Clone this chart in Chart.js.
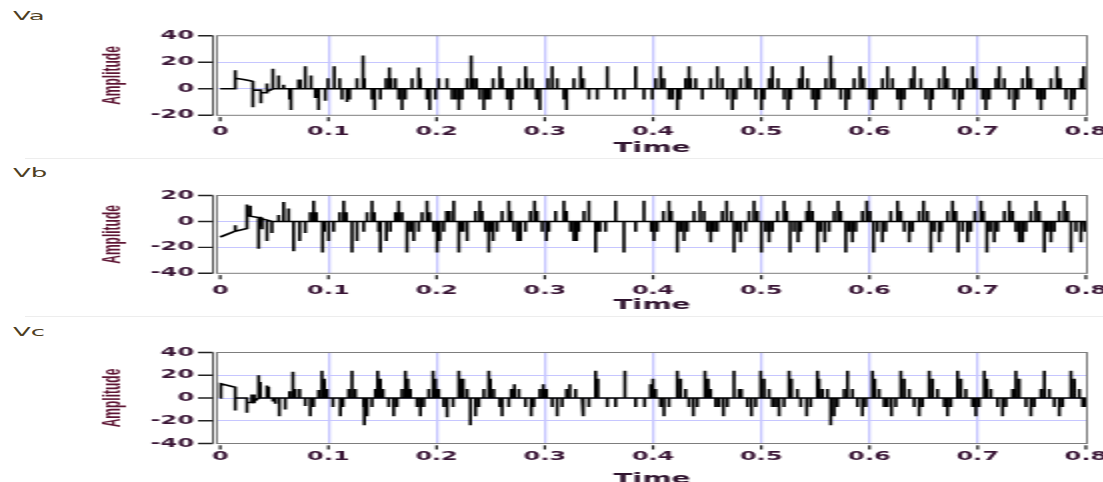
<!DOCTYPE html>
<html><head><meta charset="utf-8">
<script src="https://cdn.jsdelivr.net/npm/chart.js@4/dist/chart.umd.min.js"></script>
<style>
html,body{margin:0;padding:0;background:#fff;width:1103px;height:482px;overflow:hidden;position:relative;}
.panel{position:absolute;left:0;transform-origin:0 0;transform:scaleX(2);}
.lbl{position:absolute;left:13px;font:13px "DejaVu Sans";line-height:15px;color:#4e3e22;transform-origin:0 0;transform:scaleX(2);}
.sep{position:absolute;left:25px;width:1078px;height:1px;background:#ededed;}
</style></head><body>
<div class="lbl" style="top:8px">Va</div>
<div class="lbl" style="top:165px">Vb</div>
<div class="lbl" style="top:324px">Vc</div>
<div class="sep" style="top:158px"></div>
<div class="sep" style="top:316px"></div>
<canvas id="c1" class="panel" width="560" height="158" style="top:0px"></canvas>
<canvas id="c2" class="panel" width="560" height="158" style="top:158px"></canvas>
<canvas id="c3" class="panel" width="560" height="174" style="top:316px"></canvas>
<script>
// ---- axis ticks ----
const xTickValues = [0,0.1,0.2,0.3,0.4,0.5,0.6,0.7,0.8];
const xTickLabels = ['0','0.1','0.2','0.3','0.4','0.5','0.6','0.7','0.8'];
const vaYTicks = [-20,0,20,40];
const vbYTicks = [-40,-20,0,20];
const vcYTicks = [-40,-20,0,20,40];

// ---- Va: start-up segment (polyline vertices [time, amplitude]) ----
const vaLead = [[0,0],[0.0139,0],[0.0139,14],[0.0139,8],[0.0216,7],[0.0277,6],[0.0302,5.5],[0.0302,-14],[0.0302,-1],[0.0376,-1],[0.0376,-11],[0.0376,-3],[0.0432,-3],[0.0432,4],[0.0432,-2]];
// ---- Va: pulses from zero [time, amplitude] ----
const vaPulses = [[0.0487,15],[0.0540,10],[0.0586,3],[0.0641,-8],[0.0654,-16],[0.0724,7],[0.0740,7],[0.0786,17],[0.0839,10],[0.0879,-7],[0.0909,-16],[0.0971,-9],[0.0996,8],[0.1054,17],[0.1104,8],[0.1125,-8],[0.1172,-10],[0.1196,-8],[0.1264,8],[0.1320,25],[0.1332,8],[0.1403,-8],[0.1427,-16],[0.1480,-8],[0.1532,8],[0.1563,16],[0.1579,8],[0.1619,8],[0.1649,-8],[0.1680,-16],[0.1711,-8],[0.1773,8],[0.1834,16],[0.1850,8],[0.1911,-8],[0.1936,-16],[0.1989,-8],[0.2019,8],[0.2096,8],
[0.2143,-8],[0.2174,-8],[0.2205,-16],[0.2236,-8],[0.2282,8],[0.2319,25],[0.2337,8],[0.2368,8],[0.2399,-8],[0.2436,-16],[0.2461,-8],[0.2491,-8],[0.2522,8],[0.2584,17],[0.2606,8],[0.2652,-8],[0.2683,-16],[0.2698,-8],[0.2760,8],[0.2821,17],[0.2837,8],[0.2883,8],[0.2923,-8],[0.2954,-16],[0.3028,8],[0.3068,17],[0.3114,8],[0.3176,-8],[0.3201,-16],[0.3268,8],[0.3330,17],[0.3355,8],[0.3407,-8],[0.3484,-8],[0.3577,17],[0.3654,-8],[0.3731,-8],[0.3839,17],[0.3916,-8],[0.3993,-8],[0.4024,8],[0.4070,17],[0.4101,8],[0.4147,-8],[0.4178,-8],[0.4224,-16],[0.4249,-8],[0.4301,8],[0.4332,17],[0.4347,8],[0.4394,8],
[0.4455,-8],[0.4533,8],[0.4594,17],[0.4640,8],[0.4687,-8],[0.4733,-16],[0.4764,-8],[0.4810,8],[0.4865,17],[0.4896,8],[0.4949,-8],[0.5001,-16],[0.5026,-8],[0.5072,8],[0.5103,17],[0.5155,8],[0.5211,-8],[0.5248,-16],[0.5272,-8],[0.5349,8],[0.5380,17],[0.5427,8],[0.5473,-8],[0.5504,-16],[0.5534,-8],[0.5596,8],[0.5642,25],[0.5673,8],[0.5735,-8],[0.5781,-16],[0.5812,-8],[0.5858,8],[0.5914,17],[0.5945,8],[0.5997,-8],[0.6028,-16],[0.6059,-8],[0.6120,8],[0.6166,17],[0.6213,8],[0.6259,-8],[0.6290,-16],[0.6321,-8],[0.6382,8],[0.6413,17],[0.6475,8],[0.6521,-8],[0.6561,-16],[0.6583,-8],[0.6644,8],[0.6691,17],[0.6721,8],[0.6783,-8],[0.6829,-16],[0.6860,-8],[0.6906,8],[0.6953,17],[0.6983,8],[0.7045,-8],[0.7076,-16],[0.7107,-8],[0.7168,8],[0.7199,17],[0.7246,8],[0.7292,-8],[0.7338,-16],[0.7369,-8],[0.7415,8],[0.7461,17],[0.7492,8],[0.7554,-8],[0.7585,-16],[0.7616,-8],[0.7677,8],[0.7733,17],[0.7763,8],[0.7816,-8],[0.7862,-16],[0.7893,-8],[0.7954,8],[0.7979,17]];

// ---- Vb ----
const vbLead = [[0,-12],[0.0139,-7.5],[0.0139,-3],[0.0139,-7.5],[0.0247,-5.5],[0.0247,13],[0.0247,5],[0.0278,4.5],[0.0278,12],[0.0278,4],[0.0355,3],[0.0355,-21],[0.0355,3],[0.0370,3],[0.0370,-4],[0.0370,2.5],[0.0386,2.5],[0.0386,-6],[0.0386,2],[0.0432,1],[0.0432,-15],[0.0432,1],[0.0478,0],[0.0478,-9],[0.0478,0]];
const vbPulses = [[0.0540,5],[0.0586,15],[0.0632,10],[0.0678,-23],[0.0734,-15],[0.0786,-9],[0.0832,7],[0.0863,16],[0.0888,7],[0.0946,-24],[0.0962,-8],[0.1002,-15],[0.1048,-8],[0.1104,7],[0.1141,16],[0.1165,7],[0.1218,-24],[0.1264,-15],[0.1326,-8],[0.1357,7],[0.1403,16],[0.1424,7],[0.1464,-8],[0.1480,-24],[0.1535,-15],[0.1572,-8],[0.1619,7],[0.1649,16],[0.1680,7],[0.1726,-24],[0.1757,-8],[0.1788,-15],[0.1834,-8],[0.1865,7],[0.1911,16],[0.1936,7],[0.1973,-8],[0.2004,-24],[0.2029,-15],
[0.2066,-8],[0.2091,8],[0.2121,8],[0.2158,16],[0.2205,-24],[0.2226,-8],[0.2245,-8],[0.2282,-15],[0.2359,8],[0.2399,16],[0.2420,8],[0.2451,-8],[0.2482,-24],[0.2504,-8],[0.2522,-15],[0.2559,-8],[0.2605,8],[0.2667,16],[0.2689,8],[0.2713,-8],[0.2750,-15],[0.2775,-15],[0.2821,-8],[0.2867,8],[0.2905,16],[0.2929,8],[0.2975,-8],[0.3015,-15],[0.3037,-8],[0.3099,8],[0.3176,16],[0.3200,8],[0.3237,-8],[0.3268,-15],[0.3293,-15],[0.3314,-8],[0.3361,8],[0.3407,16],[0.3469,-24],[0.3490,-8],[0.3509,-8],[0.3561,-8],[0.3654,16],[0.3731,-24],[0.3839,-8],[0.3916,16],[0.3984,-8],[0.4008,-15],[0.4039,-8],[0.4095,8],[0.4147,16],[0.4169,8],[0.4224,-24],[0.4255,-8],[0.4286,-15],[0.4317,-8],[0.4378,8],[0.4434,16],[0.4471,8],[0.4502,-8],
[0.4533,-16],[0.4563,-8],[0.4594,-8],[0.4640,8],[0.4680,16],[0.4724,8],[0.4748,-24],[0.4779,-8],[0.4810,-16],[0.4856,-8],[0.4887,8],[0.4933,16],[0.4964,8],[0.5001,-24],[0.5041,-8],[0.5072,-16],[0.5103,-8],[0.5149,8],[0.5211,16],[0.5235,8],[0.5266,-24],[0.5303,-8],[0.5340,-16],[0.5365,-8],[0.5420,8],[0.5442,16],[0.5473,8],[0.5519,-24],[0.5550,-8],[0.5587,-16],[0.5627,-8],[0.5673,8],[0.5710,16],[0.5735,8],[0.5781,-24],[0.5812,-8],[0.5843,-16],[0.5874,-8],[0.5935,8],[0.5975,16],[0.6006,8],[0.6037,-24],[0.6074,-8],[0.6120,-16],[0.6151,-8],[0.6197,8],[0.6259,16],[0.6290,8],[0.6321,-8],[0.6367,-16],[0.6398,-8],[0.6459,8],[0.6499,16],[0.6536,8],[0.6567,-24],[0.6598,-8],[0.6644,-16],[0.6666,-8],[0.6721,8],[0.6768,16],[0.6798,8],[0.6820,-24],[0.6860,-8],[0.6906,-16],[0.6937,-8],[0.6974,8],[0.7030,16],[0.7054,8],[0.7085,-24],[0.7116,-8],[0.7153,-16],[0.7184,-8],[0.7246,8],[0.7292,16],[0.7323,8],[0.7353,-8],[0.7384,-16],[0.7415,-16],[0.7446,-8],[0.7492,8],[0.7538,16],[0.7569,8],[0.7616,-24],[0.7646,-8],[0.7677,-16],[0.7708,-8],[0.7754,8],[0.7800,16],[0.7831,8],[0.7862,-24],[0.7908,-8],[0.7954,-16],[0.7985,-8]];

// ---- Vc ----
const vcLead = [[0,0],[0.0006,0],[0.0006,12.5],[0.0139,9.5],[0.0139,-11],[0.0139,0],[0.0247,0],[0.0247,-13],[0.0247,-4],[0.0293,-4],[0.0293,3],[0.0293,-4],[0.0314,-4],[0.0314,3],[0.0314,-3]];
const vcPulses = [[0.0355,20],[0.0370,14],[0.0432,11],[0.0447,10],[0.0487,-3],[0.0509,-5],[0.0546,-16],[0.0601,-10],[0.0641,6],[0.0672,23],[0.0694,8],[0.0734,8],[0.0786,-7],[0.0832,-16],[0.0863,-8],[0.0909,7],[0.0940,24],[0.0962,17],[0.0987,8],[0.1042,-8],[0.1110,-16],[0.1135,-8],[0.1187,8],[0.1218,24],[0.1249,8],[0.1326,-8],[0.1332,-24],[0.1357,-16],[0.1403,-8],[0.1434,8],[0.1455,24],[0.1480,17],[0.1505,8],[0.1557,-8],[0.1603,-16],[0.1634,-8],[0.1680,8],[0.1711,24],[0.1733,17],[0.1757,8],[0.1819,-8],[0.1850,-16],[0.1881,-8],[0.1927,8],[0.1967,24],[0.1989,17],[0.2019,8],
[0.2066,-8],[0.2097,-17],[0.2152,-8],[0.2205,24],[0.2226,17],[0.2245,17],[0.2282,8],[0.2312,-24],[0.2359,-16],[0.2390,-8],[0.2436,8],[0.2482,24],[0.2497,17],[0.2528,8],[0.2584,-8],[0.2605,-16],[0.2667,-8],[0.2689,8],[0.2719,12],[0.2760,8],[0.2821,-8],[0.2874,-16],[0.2898,-8],[0.2954,8],[0.2985,12],[0.3015,8],[0.3068,-8],[0.3114,-16],[0.3160,-8],[0.3200,8],[0.3231,12],[0.3284,8],[0.3345,-8],[0.3361,-16],[0.3407,-8],[0.3469,24],[0.3490,17],[0.3577,-8],[0.3654,-8],[0.3740,24],[0.3839,-8],[0.3922,-8],[0.3977,12],[0.3999,17],[0.4024,8],[0.4070,-8],[0.4101,-16],[0.4147,-8],[0.4224,24],[0.4255,17],[0.4301,8],[0.4332,-8],[0.4372,-16],[0.4409,-8],[0.4471,8],
[0.4486,24],[0.4508,17],[0.4532,8],[0.4579,-8],[0.4610,-8],[0.4650,-16],[0.4687,-8],[0.4748,24],[0.4795,8],[0.4816,8],[0.4872,-8],[0.4909,-16],[0.4949,-8],[0.4995,24],[0.5026,17],[0.5072,8],[0.5103,-8],[0.5134,-8],[0.5165,-16],[0.5211,-8],[0.5257,24],[0.5279,17],[0.5334,8],[0.5365,-8],[0.5420,-16],[0.5457,-8],[0.5519,24],[0.5534,17],[0.5565,8],[0.5612,8],[0.5642,-24],[0.5673,-16],[0.5704,-8],[0.5766,8],[0.5797,24],[0.5843,8],[0.5889,-8],[0.5935,-16],[0.5966,-8],[0.6028,24],[0.6049,17],[0.6089,8],[0.6136,-8],[0.6166,-8],[0.6203,-16],[0.6244,-8],[0.6290,24],[0.6321,17],[0.6367,8],[0.6413,-8],[0.6459,-16],[0.6490,-8],[0.6552,24],[0.6583,17],[0.6629,8],[0.6691,-8],[0.6721,-16],[0.6752,-8],[0.6814,24],[0.6845,17],[0.6891,8],[0.6953,-8],[0.6983,-16],[0.7014,-8],[0.7061,24],[0.7085,17],[0.7122,8],[0.7184,-8],[0.7230,-16],[0.7261,-8],[0.7323,8],[0.7353,24],[0.7384,17],[0.7446,-8],[0.7492,-16],[0.7523,-8],[0.7585,8],[0.7616,24],[0.7662,8],[0.7708,-8],[0.7754,-16],[0.7785,-8],[0.7862,24],[0.7893,17],[0.7939,8],[0.7970,-8],[0.7985,-8]];

// ---- build polyline from the lead vertices and the pulses ----
function buildPoints(lead, pulses){
  const pts = lead.map(p => ({x:p[0], y:p[1]}));
  for (const p of pulses){
    pts.push({x:p[0], y:0}, {x:p[0], y:p[1]}, {x:p[0], y:0});
  }
  pts.push({x:0.8, y:0});
  return pts;
}

const tickColor = '#3a1636';
const frame = {
  id:'frame',
  afterDraw(chart){
    const {ctx, chartArea:a, scales:{x, y}} = chart;
    ctx.save();
    ctx.strokeStyle = '#7d7d7d'; ctx.lineWidth = 1;
    ctx.strokeRect(a.left, a.top, a.right - a.left, a.bottom - a.top);
    ctx.strokeStyle = '#555'; ctx.lineWidth = 1;
    ctx.beginPath(); ctx.moveTo(a.left - 2, a.top); ctx.lineTo(a.left - 2, a.bottom); ctx.stroke();
    ctx.strokeStyle = '#222'; ctx.lineWidth = 1.4;
    ctx.beginPath();
    for (const t of y.ticks){ const py = y.getPixelForValue(t.value); ctx.moveTo(a.left - 9.5, py); ctx.lineTo(a.left - 2, py); }
    ctx.stroke();
    ctx.fillStyle = '#111';
    for (const t of x.ticks){ const px = x.getPixelForValue(t.value); ctx.fillRect(px - 0.6, a.bottom + 1.8, 1.2, 4.2); }
    ctx.restore();
  }
};

function makeChart(id, cfg){
  new Chart(document.getElementById(id), {
    type:'line',
    data:{datasets:[{data:cfg.points, borderColor:'#000', borderWidth:1.6, pointRadius:0, tension:0, fill:false}]},
    options:{
      responsive:false, animation:false, devicePixelRatio:1, events:[],
      layout:{padding:{left:0, right:16.5, top:cfg.top, bottom:0}},
      plugins:{legend:{display:false}, tooltip:{enabled:false}},
      scales:{
        x:{type:'linear', min:-0.003, max:0.801,
          afterBuildTicks:s=>{ s.ticks = xTickValues.map(v=>({value:v})); },
          afterFit:s=>{ s.height = cfg.h - cfg.bottom; s.paddingLeft = 0; s.paddingRight = 0; },
          border:{display:false},
          grid:{drawTicks:false, lineWidth:1.3,
            color:c => (c.tick && (c.tick.value === 0 || c.tick.value === 0.8)) ? 'rgba(0,0,0,0)' : '#c6c6ff'},
          ticks:{padding:cfg.xPad, maxRotation:0, autoSkip:false, color:tickColor,
            font:{family:'DejaVu Sans', size:12, weight:'bold'}, callback:(v,i)=>xTickLabels[i]},
          title:{display:true, text:'Time', color:'#30142f', font:{family:'DejaVu Sans', size:14, weight:'bold'}, padding:{top:0, bottom:cfg.tPad}}
        },
        y:{type:'linear', min:cfg.yTicks[0], max:cfg.yTicks[cfg.yTicks.length-1],
          afterBuildTicks:s=>{ s.ticks = cfg.yTicks.map(v=>({value:v})); },
          afterFit:s=>{ s.width = 108.5; },
          border:{display:false},
          grid:{drawTicks:false, lineWidth:1,
            color:c => (c.tick && (c.tick.value === cfg.yTicks[0] || c.tick.value === cfg.yTicks[cfg.yTicks.length-1])) ? 'rgba(0,0,0,0)' : '#c6c6ff'},
          ticks:{padding:11.5, color:tickColor, font:{family:'DejaVu Sans', size:12, weight:'bold'}, callback:v=>String(v)},
          title:{display:true, text:'Amplitude', color:'#5e1634', font:{family:'Liberation Sans', size:12, weight:'bold'}, padding:{top:49, bottom:0}}
        }
      }
    },
    plugins:[frame]
  });
}

makeChart('c1', {points:buildPoints(vaLead, vaPulses), yTicks:vaYTicks, top:35.7, bottom:115.3, h:158, xPad:9, tPad:1});
makeChart('c2', {points:buildPoints(vbLead, vbPulses), yTicks:vbYTicks, top:37.5, bottom:115.3, h:158, xPad:10.5, tPad:2});
makeChart('c3', {points:buildPoints(vcLead, vcPulses), yTicks:vcYTicks, top:36.5, bottom:127.5, h:174, xPad:6, tPad:2.5});
</script>
</body></html>
